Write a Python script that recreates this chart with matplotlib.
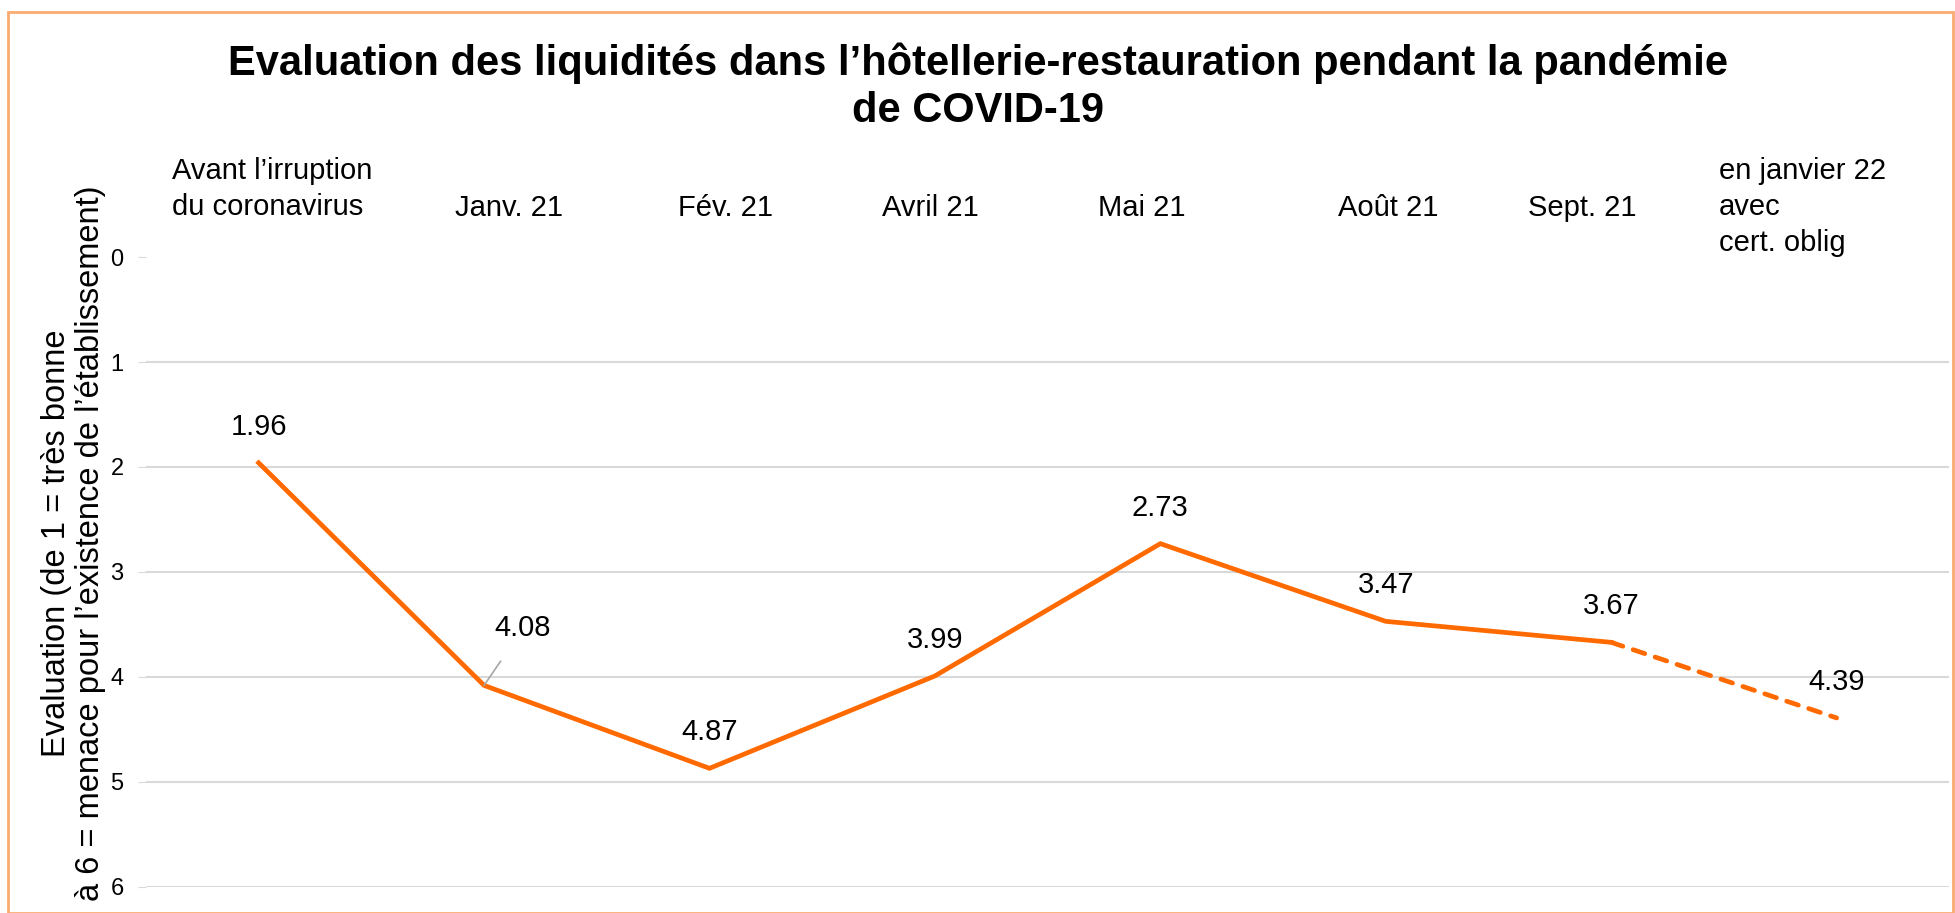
import numpy as np
import matplotlib.pyplot as plt
from matplotlib.patches import Rectangle

plt.rcParams['font.family'] = ['Liberation Sans', 'DejaVu Sans']

categories = ["Avant l\u2019irruption\ndu coronavirus", "Janv. 21", "F\u00e9v. 21", "Avril 21",
              "Mai 21", "Ao\u00fbt 21", "Sept. 21", "en janvier 22\navec\ncert. oblig"]
values = [1.96, 4.08, 4.87, 3.99, 2.73, 3.47, 3.67, 4.39]
yticks = [0, 1, 2, 3, 4, 5, 6]

# small horizontal nudges of the category captions (pixels), as in the original
label_dx = [14, 25, 16, -5, -19, 2, -29, -34]

orange = '#FF6A00'
x = np.arange(len(values))

fig = plt.figure(figsize=(19.56, 9.13), dpi=100)
ax = fig.add_axes([0.0746, 0.0285, 0.922, 0.690])

ax.plot(x[:-1], values[:-1], color=orange, lw=3.4, solid_joinstyle='miter', zorder=3)
ax.plot(x[-2:], values[-2:], color=orange, lw=3.4, ls=(0, (2.6, 2.3)),
        dash_capstyle='round', zorder=3)

ax.set_xlim(-0.5, len(values) - 0.5)
ax.set_ylim(6, 0)
ax.set_yticks(yticks)
ax.set_yticklabels([str(t) for t in yticks], fontsize=17)
ax.tick_params(axis='y', length=6, color='#d9d9d9', pad=10)
ax.set_xticks([])
for t in yticks[1:]:
    ax.axhline(t, color='#d9d9d9', lw=1.5, zorder=1)
for s in ax.spines.values():
    s.set_visible(False)

# category labels above plot
for i, c in enumerate(categories):
    nlines = c.count('\n') + 1
    top_px = 157 if nlines > 1 else 194  # top of caption block, px from top
    ax.annotate(c, xy=(i, 0), xycoords='data',
                xytext=(label_dx[i], 257 - top_px), textcoords='offset pixels',
                ha='center', va='top', fontsize=21, multialignment='left',
                linespacing=1.36, annotation_clip=False)

# data labels
for i, v in enumerate(values):
    if i == 1:
        ax.annotate(f"{v:.2f}", xy=(i, v), xytext=(39, 57), textcoords='offset pixels',
                    ha='center', va='center', fontsize=21,
                    arrowprops=dict(arrowstyle='-', color='#a6a6a6', lw=1.2,
                                    shrinkA=14, shrinkB=0))
    else:
        ax.annotate(f"{v:.2f}", xy=(i, v), xytext=(0, 36), textcoords='offset pixels',
                    ha='center', va='center', fontsize=21)

ax.set_ylabel("Evaluation (de 1 = tr\u00e8s bonne\n\u00e0 6 = menace pour l\u2019existence de l\u2019\u00e9tablissement)",
              fontsize=23.5, linespacing=1.15)
ax.yaxis.set_label_coords(-0.022, 0.545)

fig.suptitle("Evaluation des liquidit\u00e9s dans l\u2019h\u00f4tellerie-restauration pendant la pand\u00e9mie\nde COVID-19",
             fontsize=30, fontweight='bold', y=0.953, linespacing=1.2)

fig.patches.append(Rectangle((8 / 1956, 0), (1953 - 8) / 1956, (913 - 12) / 913,
                             transform=fig.transFigure, fill=False,
                             edgecolor='#F9AB70', lw=2))

fig.savefig('out.png', dpi=100)
